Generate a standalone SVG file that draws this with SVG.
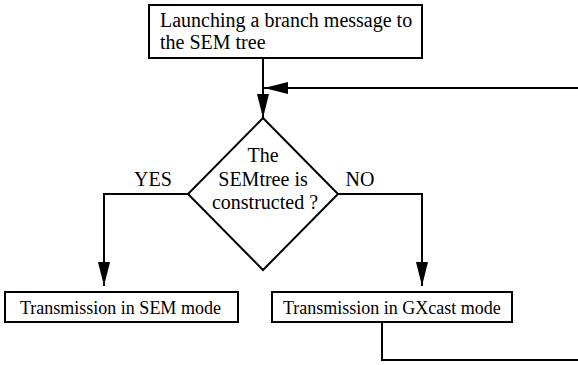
<svg xmlns="http://www.w3.org/2000/svg" width="578" height="365" viewBox="0 0 578 365">
<style>
.box{fill:#fff;stroke:#000;stroke-width:2}
.ln{fill:none;stroke:#000;stroke-width:2}
text{font-family:"Liberation Serif","Times New Roman",serif;fill:#000}
.t20{font-size:20px}
.t18{font-size:18px}
</style>
<defs>
<marker id="ah" markerUnits="userSpaceOnUse" markerWidth="24" markerHeight="12" refX="24" refY="6" orient="auto">
<path d="M0,0 L24,6 L0,12 z" fill="#000"/>
</marker>
</defs>
<g id="connectors">
<path class="ln" d="M263,58 V118" marker-end="url(#ah)"/>
<path class="ln" d="M578,88 H264" marker-end="url(#ah)"/>
<path class="ln" d="M188,194 H104 V286" marker-end="url(#ah)"/>
<path class="ln" d="M338,194 H422 V286" marker-end="url(#ah)"/>
<path class="ln" d="M382,322 V360 H578"/>
</g>
<g id="start">
<rect class="box" x="149" y="5" width="273" height="53"/>
<text class="t20" x="160" y="26.5">Launching a branch message to</text>
<text class="t20" x="160" y="48.5">the SEM tree</text>
</g>
<g id="decision">
<polygon class="box" points="263,118 338,194 263,270 188,194"/>
<text class="t20" x="263" y="161.5" text-anchor="middle">The</text>
<text class="t20" x="263" y="186" text-anchor="middle">SEMtree is</text>
<text class="t20" x="265" y="209" text-anchor="middle">constructed ?</text>
</g>
<g id="labels">
<text class="t20" x="153" y="186" text-anchor="middle">YES</text>
<text class="t20" x="360" y="186" text-anchor="middle">NO</text>
</g>
<g id="sem">
<rect class="box" x="5" y="292" width="233" height="30"/>
<text class="t18" x="20" y="313.5">Transmission in SEM mode</text>
</g>
<g id="gxcast">
<rect class="box" x="272" y="292" width="240" height="30"/>
<text class="t18" x="283" y="313.5">Transmission in GXcast mode</text>
</g>
</svg>
